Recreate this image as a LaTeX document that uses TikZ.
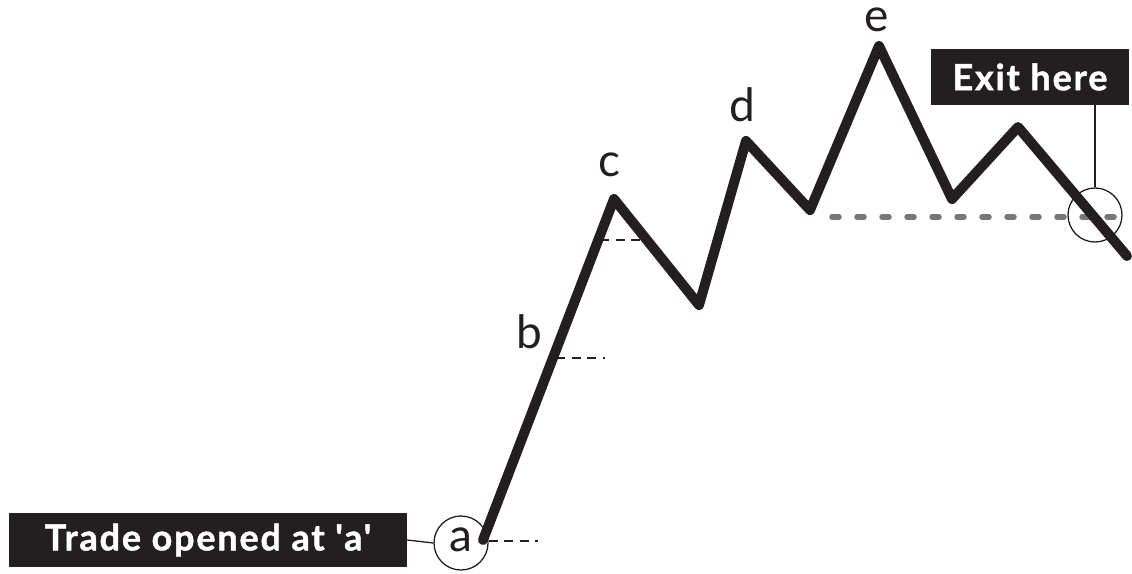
\documentclass[tikz,border=0pt]{standalone}
\usepackage{fontspec}
\setmainfont{Lato}[Ligatures=TeXOff]
\newfontfamily\heavyfont{Lato}[Ligatures=TeXOff,LetterSpace=5,BoldFeatures={FakeBold=1.3,LetterSpace=5}]
\definecolor{ink}{HTML}{231F20}
\definecolor{stopgray}{HTML}{777777}
\begin{document}
\begin{tikzpicture}[x=1pt,y=-1pt,
  trend/.style={draw=ink,line width=10pt,line join=round,line cap=round},
  level/.style={draw=ink,line width=2.6pt,dash pattern=on 9pt off 6.5pt},
  stopline/.style={draw=stopgray,line width=5.5pt,line cap=round,dash pattern=on 7pt off 18pt},
  thin/.style={draw=ink,line width=1.3pt},
  blackbox/.style={fill=ink,text=white,inner sep=0pt,font=\heavyfont\fontsize{36}{40}\selectfont\bfseries},
  ring/.style={circle,draw=ink,line width=1.3pt,minimum size=54pt,inner sep=0pt},
  lbl/.style={text=ink,inner sep=0pt,font=\fontsize{46}{50}\selectfont}]
\useasboundingbox (0,0) rectangle (1132,573);
% points of the price path
\coordinate (pa) at (483,540);
\coordinate (pc) at (614,199);
\coordinate (t1) at (699,305);
\coordinate (pd) at (746,141);
\coordinate (t2) at (810,210);
\coordinate (pe) at (879,46);
\coordinate (t3) at (952,199);
\coordinate (p4) at (1018,127);
\coordinate (pend) at (1127,256);
% stop level
\coordinate (s1) at (832,217);
\coordinate (s2) at (1120,217);
\draw[stopline] (s1) -- (s2);
% level dashes
\coordinate (b1) at (556,358); \coordinate (b2) at (605,358);
\coordinate (c1) at (600,240); \coordinate (c2) at (646,240);
\coordinate (a2) at (538,541);
\draw[level] (b1) -- (b2);
\draw[level] (c1) -- (c2);
% nodes
\node[blackbox,minimum width=398pt,minimum height=54pt] (trade) at (208,540) {Trade opened at 'a'};
\node[blackbox,minimum width=198pt,minimum height=56pt] (exitbox) at (1030,77) {Exit here};
\node[ring] (acirc) at (461,543) {};
\node[lbl] at (461,540) {a};
\node[ring] (exitc) at (1095,215) {};
\draw[level] (acirc.east) ++(0,-2) -- (a2);
\draw[thin] (trade.east) -- (acirc.west);
\draw[thin] (exitbox.south -| exitc.north) -- (exitc.north);
% main path
\draw[trend] (pa) -- (pc) -- (t1) -- (pd) -- (t2) -- (pe) -- (t3) -- (p4) -- (pend);
% labels
\node[lbl] (lb) at (529,332) {b};
\node[lbl] (lc) at (609,165) {c};
\node[lbl] (ld) at (742,105) {d};
\node[lbl,anchor=base] (le) at (877,31) {e};
\end{tikzpicture}
\end{document}
